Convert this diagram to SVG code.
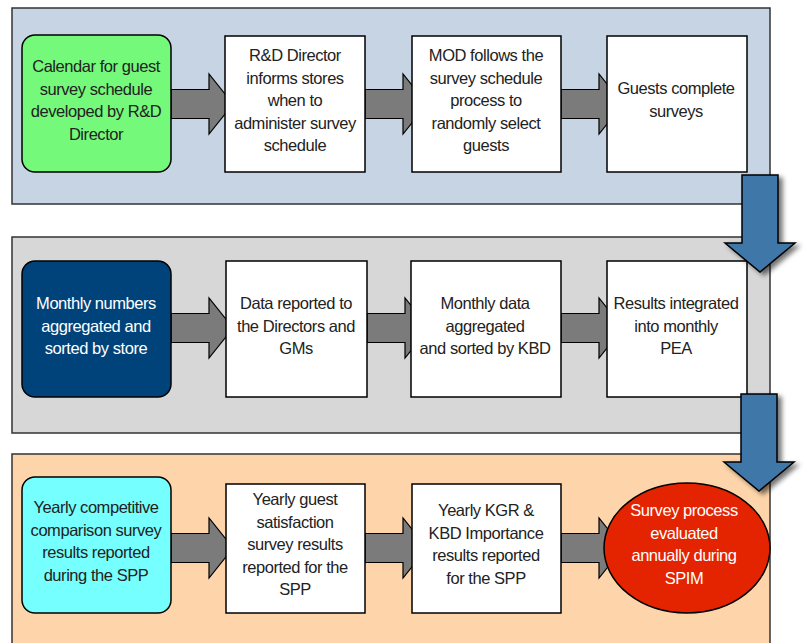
<svg xmlns="http://www.w3.org/2000/svg" width="804" height="643" viewBox="0 0 804 643">
  <defs>
    <style>
      .panel { stroke: #333333; stroke-width: 1.5; }
      .box { fill: #ffffff; stroke: #000000; stroke-width: 1.5; }
      .step { fill: #7b7b7b; stroke: #000000; stroke-width: 1.2; stroke-linejoin: miter; }
      .down { fill: #4177a9; stroke: #000000; stroke-width: 1.5; stroke-linejoin: miter; }
      text { font-family: "Liberation Sans", Arial, sans-serif; font-size: 16.5px; letter-spacing: -0.45px; text-anchor: middle; fill: #222222; }
      .light { fill: #ffffff; }
    </style>
    <filter id="shadow" x="-30%" y="-20%" width="160%" height="150%">
      <feGaussianBlur in="SourceAlpha" stdDeviation="2.5"/>
      <feOffset dx="4" dy="3" result="blur"/>
      <feComponentTransfer><feFuncA type="linear" slope="0.55"/></feComponentTransfer>
      <feMerge><feMergeNode/><feMergeNode in="SourceGraphic"/></feMerge>
    </filter>
    <!-- right-pointing block arrow, origin at tail, centre line y=0 -->
    <path id="step" d="M0,-14.5 H38 V-30 L62,0 L38,30 V14.5 H0 Z"/>
    <!-- downward block arrow, origin at top-left of shaft -->
    <path id="drop" d="M0,0 H36 V68 H53 L18,97 L-17,68 H0 Z"/>
  </defs>

  <!-- stage panels -->
  <rect class="panel" x="12" y="8" width="758" height="196" fill="#c6d4e4"/>
  <rect class="panel" x="12" y="237" width="758" height="196" fill="#d7d7d7"/>
  <rect class="panel" x="12" y="454" width="758" height="200" fill="#fed5aa"/>

  <!-- connectors -->
  <g id="connectors">
    <use href="#step" class="step" x="171" y="104"/>
    <use href="#step" class="step" x="365" y="104"/>
    <use href="#step" class="step" x="561" y="104"/>
    <use href="#step" class="step" x="171" y="328"/>
    <use href="#step" class="step" x="367" y="328"/>
    <use href="#step" class="step" x="561" y="328"/>
    <use href="#step" class="step" x="171" y="548"/>
    <use href="#step" class="step" x="365" y="548"/>
    <use href="#step" class="step" x="561" y="548"/>
  </g>

  <!-- stage 1 -->
  <g id="calendar">
    <rect x="22" y="35" width="149" height="137" rx="13" fill="#74f97a" stroke="#000" stroke-width="1.5"/>
    <text x="96" y="72">Calendar for guest</text>
    <text x="96" y="94.5">survey schedule</text>
    <text x="96" y="117">developed by R&amp;D</text>
    <text x="96" y="139.5">Director</text>
  </g>
  <g id="informs">
    <rect class="box" x="225" y="36" width="140" height="136"/>
    <text x="295" y="61">R&amp;D Director</text>
    <text x="295" y="83.5">informs stores</text>
    <text x="295" y="106">when to</text>
    <text x="295" y="128.5">administer survey</text>
    <text x="295" y="151">schedule</text>
  </g>
  <g id="mod">
    <rect class="box" x="412" y="36" width="149" height="136"/>
    <text x="486" y="61">MOD follows the</text>
    <text x="486" y="83.5">survey schedule</text>
    <text x="486" y="106">process to</text>
    <text x="486" y="128.5">randomly select</text>
    <text x="486" y="151">guests</text>
  </g>
  <g id="guests">
    <rect class="box" x="607" y="36" width="140" height="136"/>
    <text x="676" y="94">Guests complete</text>
    <text x="676" y="117">surveys</text>
  </g>

  <!-- stage 2 -->
  <g id="monthly-numbers">
    <rect x="22" y="261" width="149" height="136" rx="13" fill="#00437a" stroke="#000" stroke-width="1.5"/>
    <text class="light" x="96" y="309">Monthly numbers</text>
    <text class="light" x="96" y="331.5">aggregated and</text>
    <text class="light" x="96" y="354">sorted by store</text>
  </g>
  <g id="data-reported">
    <rect class="box" x="226" y="261" width="141" height="136"/>
    <text x="296" y="309">Data reported to</text>
    <text x="296" y="331.5">the Directors and</text>
    <text x="296" y="354">GMs</text>
  </g>
  <g id="monthly-data">
    <rect class="box" x="411" y="261" width="150" height="136"/>
    <text x="485" y="309">Monthly data</text>
    <text x="485" y="331.5">aggregated</text>
    <text x="485" y="354">and sorted by KBD</text>
  </g>
  <g id="results-integrated">
    <rect class="box" x="607" y="261" width="140" height="136"/>
    <text x="676" y="309">Results integrated</text>
    <text x="676" y="331.5">into monthly</text>
    <text x="676" y="354">PEA</text>
  </g>

  <!-- stage 3 -->
  <g id="competitive">
    <rect x="22" y="477" width="149" height="136" rx="13" fill="#75ffff" stroke="#000" stroke-width="1.5"/>
    <text x="96" y="513">Yearly competitive</text>
    <text x="96" y="535.5">comparison survey</text>
    <text x="96" y="558">results reported</text>
    <text x="96" y="580.5">during the SPP</text>
  </g>
  <g id="satisfaction">
    <rect class="box" x="226" y="484" width="139" height="129"/>
    <text x="295" y="505">Yearly guest</text>
    <text x="295" y="527.5">satisfaction</text>
    <text x="295" y="550">survey results</text>
    <text x="295" y="572.5">reported for the</text>
    <text x="295" y="595">SPP</text>
  </g>
  <g id="kgr-kbd">
    <rect class="box" x="412" y="484" width="149" height="129"/>
    <text x="486" y="516">Yearly KGR &amp;</text>
    <text x="486" y="538.5">KBD Importance</text>
    <text x="486" y="561">results reported</text>
    <text x="486" y="583.5">for the SPP</text>
  </g>
  <g id="spim">
    <ellipse cx="687" cy="548" rx="83" ry="65" fill="#e42300" stroke="#000" stroke-width="1.5"/>
    <text class="light" x="684" y="516">Survey process</text>
    <text class="light" x="684" y="538.5">evaluated</text>
    <text class="light" x="684" y="561">annually during</text>
    <text class="light" x="684" y="583.5">SPIM</text>
  </g>

  <!-- stage-to-stage connectors -->
  <g id="stage-links" filter="url(#shadow)">
    <use href="#drop" class="down" x="742" y="175"/>
    <use href="#drop" class="down" x="741" y="394"/>
  </g>
</svg>
